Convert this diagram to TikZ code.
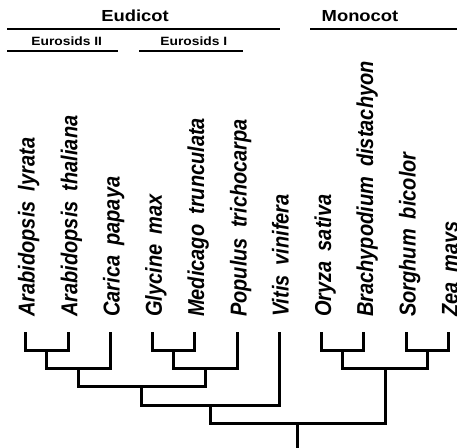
\documentclass[tikz,border=0pt]{standalone}
\usepackage{fontspec}
\setmainfont{Liberation Sans}
\begin{document}
\begin{tikzpicture}[x=1pt,y=-1pt,
  branch/.style={line width=3pt, line join=miter},
  rulebar/.style={line width=1.6pt},
  head/.style={anchor=base, inner sep=0pt, font=\fontsize{16}{18}\selectfont\bfseries},
  subhead/.style={anchor=base, inner sep=0pt, font=\fontsize{12}{14}\selectfont\bfseries},
  species/.style={anchor=base west, rotate=90, inner sep=0pt, font=\fontsize{20}{24}\selectfont\bfseries\itshape}]
\useasboundingbox (0,0) rectangle (457,447);
% headers
\node[head] (eud) at (135,21.5) {\scalebox{1.15}[1]{Eudicot}};
\node[head] (mono) at (360,21.5) {\scalebox{1.15}[1]{Monocot}};
\node[subhead] (ros2) at (66.7,45.7) {\scalebox{1.15}[1]{Eurosids II}};
\node[subhead] (ros1) at (193.8,45.7) {\scalebox{1.15}[1]{Eurosids I}};
\coordinate (eudA) at (7,29); \coordinate (eudB) at (280,29);
\coordinate (monoA) at (310,29); \coordinate (monoB) at (460,29);
\coordinate (r2A) at (7,50.7); \coordinate (r2B) at (117.7,50.7);
\coordinate (r1A) at (139.3,50.7); \coordinate (r1B) at (242.7,50.7);
\draw[rulebar] (eudA) -- (eudB);
\draw[rulebar] (monoA) -- (monoB);
\draw[rulebar] (r2A) -- (r2B);
\draw[rulebar] (r1A) -- (r1B);
% species labels
\def\gap{\hspace{0.5em}}
\node[species] (s1) at (34.5,317) {\scalebox{1}[1.15]{Arabidopsis\gap lyrata}};
\node[species] (s2) at (77.3,317) {\scalebox{1}[1.15]{Arabidopsis\gap thaliana}};
\node[species] (s3) at (119.5,317) {\scalebox{1}[1.15]{Carica\gap papaya}};
\node[species] (s4) at (161.8,317) {\scalebox{1}[1.15]{Glycine\gap max}};
\node[species] (s5) at (204,317) {\scalebox{1}[1.15]{Medicago\gap trunculata}};
\node[species] (s6) at (246.5,317) {\scalebox{1}[1.15]{Populus\gap trichocarpa}};
\node[species] (s7) at (288.5,317) {\scalebox{1}[1.15]{Vitis\gap vinifera}};
\node[species] (s8) at (331,317) {\scalebox{1}[1.15]{Oryza\gap sativa}};
\node[species] (s9) at (373,317) {\scalebox{1}[1.15]{Brachypodium\gap distachyon}};
\node[species] (s10) at (415.5,317) {\scalebox{1}[1.15]{Sorghum\gap bicolor}};
\node[species] (s11) at (457.8,317) {\scalebox{1}[1.15]{Zea\gap mays}};
% leaves
\coordinate (l1) at (25,332.3);
\coordinate (l2) at (68,332.3);
\coordinate (l3) at (110,332.3);
\coordinate (l4) at (152.3,332.3);
\coordinate (l5) at (194.3,332.3);
\coordinate (l6) at (237,332.3);
\coordinate (l7) at (279.3,332.3);
\coordinate (l8) at (321.7,332.3);
\coordinate (l9) at (363.5,332.3);
\coordinate (l10) at (406,332.3);
\coordinate (l11) at (448.3,332.3);
% internal nodes
\coordinate (nAB) at (46.5,350);
\coordinate (nABC) at (78,368.3);
\coordinate (nGM) at (173.3,350);
\coordinate (nGMP) at (205.2,368.3);
\coordinate (nRos) at (141.7,386.7);
\coordinate (nEud) at (210.6,405);
\coordinate (nOB) at (342.6,350);
\coordinate (nSZ) at (427.2,350);
\coordinate (nMono) at (385,368.3);
\coordinate (root) at (297.7,423.3);
\coordinate (base) at (297.7,452);
\draw[branch] (l1) |- (nAB) -| (l2);
\draw[branch] (nAB) |- (nABC) -| (l3);
\draw[branch] (l4) |- (nGM) -| (l5);
\draw[branch] (nGM) |- (nGMP) -| (l6);
\draw[branch] (nABC) |- (nRos) -| (nGMP);
\draw[branch] (nRos) |- (nEud) -| (l7);
\draw[branch] (l8) |- (nOB) -| (l9);
\draw[branch] (l10) |- (nSZ) -| (l11);
\draw[branch] (nOB) |- (nMono) -| (nSZ);
\draw[branch] (nEud) |- (root) -| (nMono);
\draw[branch] (root) -- (base);
\end{tikzpicture}
\end{document}
